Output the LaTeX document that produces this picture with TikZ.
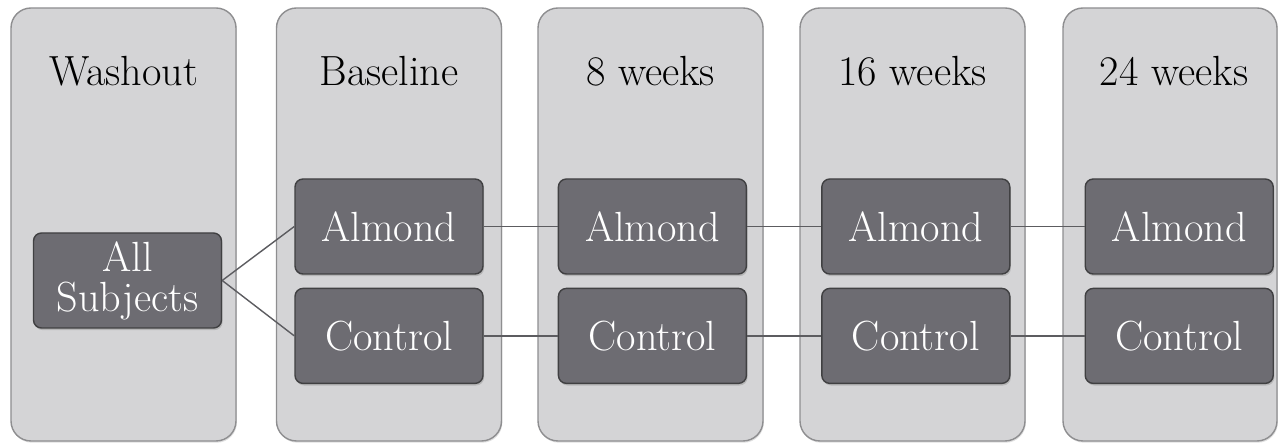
\documentclass[tikz,border=0pt]{standalone}
\usepackage{tikz}
\usetikzlibrary{positioning, shadows}
\definecolor{panelgray}{HTML}{D4D4D6}
\definecolor{paneledge}{HTML}{8E8E90}
\definecolor{boxgray}{HTML}{6D6C72}
\definecolor{boxedge}{HTML}{404042}
\definecolor{linkgray}{HTML}{5C5C60}
\tikzstyle{phase} = [rectangle, rounded corners=0.5cm, minimum width=5.625cm, minimum height=10.825cm, draw=paneledge, line width=1pt, fill=panelgray, drop shadow={shadow xshift=0.6pt, shadow yshift=-1.2pt, opacity=0.25}]
\tikzstyle{phasetitle} = [anchor=base, text=black, font=\fontsize{30}{32}\selectfont]
\tikzstyle{group} = [rectangle, rounded corners=0.2cm, minimum width=4.7cm, minimum height=2.375cm, text centered, align=center, draw=boxedge, line width=1pt, fill=boxgray, text=white, font=\fontsize{30}{28.5}\selectfont, drop shadow={shadow xshift=0.8pt, shadow yshift=-1.5pt, opacity=0.35}]
\tikzstyle{link} = [draw=linkgray, line width=1pt]

\begin{document}
\begin{tikzpicture}[node distance=1.85cm]
      \useasboundingbox (0,0) rectangle (31.95,11.125);

      % Phases
      \node (washout) [phase] at (3.0875,5.5125) {};
      \node (baseline) [phase] at (9.725,5.5125) {};
      \node (week8) [phase] at (16.2625,5.5125) {};
      \node (week16) [phase] at (22.8125,5.5125) {};
      \node (week24) [phase, minimum width=5.35cm] at (29.25,5.5125) {};

      \node (twashout) [phasetitle] at ([yshift=-1.95cm]washout.north) {Washout};
      \node (tbaseline) [phasetitle] at ([yshift=-1.95cm]baseline.north) {Baseline};
      \node (tweek8) [phasetitle] at ([yshift=-1.95cm]week8.north) {8 weeks};
      \node (tweek16) [phasetitle] at ([yshift=-1.95cm]week16.north) {16 weeks};
      \node (tweek24) [phasetitle] at ([yshift=-1.95cm, xshift=0.1cm]week24.north) {24 weeks};

      % Groups
      \node (all) [group] at (3.1875,4.1125) {All\\Subjects};
      \node (almond0) [group] at (9.725,5.4625) {Almond};
      \node (control0) [group, below=0.325cm of almond0] {Control};
      \node (almond8) [group, right=of almond0] {Almond};
      \node (control8) [group, right=of control0] {Control};
      \node (almond16) [group, right=of almond8] {Almond};
      \node (control16) [group, right=of control8] {Control};
      \node (almond24) [group, right=of almond16] {Almond};
      \node (control24) [group, right=of control16] {Control};

      % Lines
      \draw [link] (all.east) -- (almond0.west);
      \draw [link] (all.east) -- (control0.west);
      \draw [link] (almond0) -- (almond8);
      \draw [link] (almond8) -- (almond16);
      \draw [link] (almond16) -- (almond24);
      \draw [link] (control0) -- (control8);
      \draw [link] (control8) -- (control16);
      \draw [link] (control16) -- (control24);

\end{tikzpicture}
\end{document}
